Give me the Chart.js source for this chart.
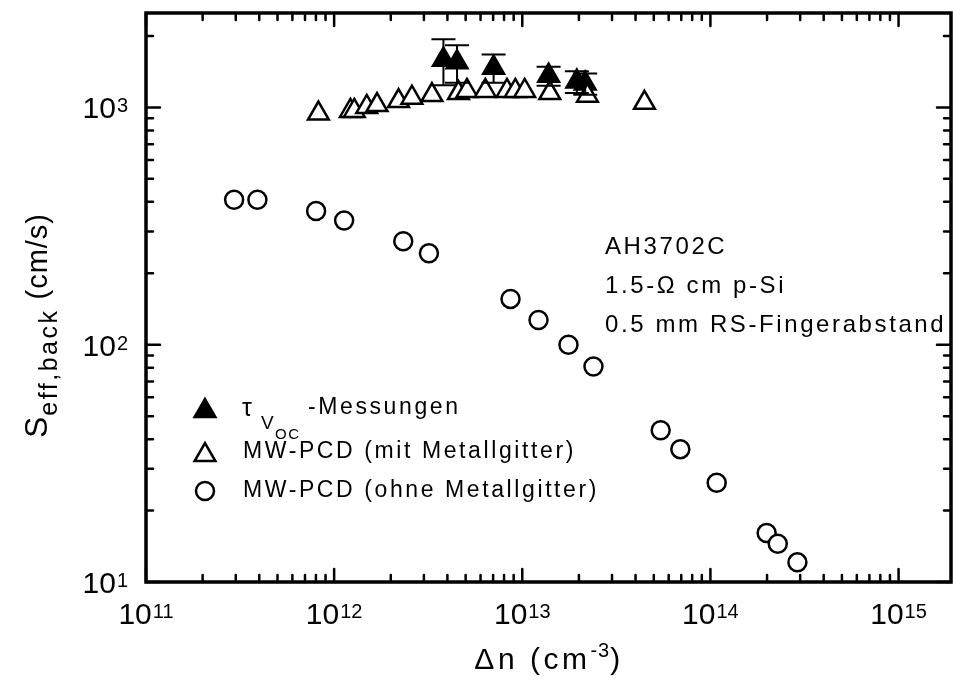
<!DOCTYPE html>
<html>
<head>
<meta charset="utf-8">
<script src="https://cdn.jsdelivr.net/npm/chart.js@4.4.0/dist/chart.umd.min.js"></script>
<style>
  html, body { margin: 0; padding: 0; background: #fff; overflow: hidden; }
  #wrap { width: 953px; height: 695px; }
</style>
</head>
<body>
<div id="wrap"><canvas id="myChart" width="953" height="695"></canvas></div>
<script>
// MW-PCD without metal grid (open circles)
const circleX = [2.94e11, 3.91e11, 8.02e11, 1.13e12, 2.33e12, 3.19e12, 8.66e12, 1.22e13,
    1.76e13, 2.39e13, 5.44e13, 6.92e13, 1.08e14, 1.99e14, 2.28e14, 2.90e14];
const circleY = [408, 408, 366, 334, 273, 243, 156, 127, 100, 81, 43.6, 36.3, 26.2, 16.1, 14.5, 12.1];

// MW-PCD with metal grid (open triangles)
const triX = [8.25e11, 1.22e12, 1.28e12, 1.49e12, 1.69e12, 2.2e12, 2.59e12, 3.31e12, 4.58e12,
    5.08e12, 6.36e12, 8.29e12, 9.18e12, 1.03e13, 1.40e13, 2.22e13, 4.46e13];
const triY = [942, 966, 966, 1005, 1023, 1064, 1099, 1128, 1150, 1173, 1173, 1173, 1173, 1173, 1150, 1120, 1046];

// tau_Voc measurements (filled triangles with error bars)
const vocX = [3.81e12, 4.50e12, 7.04e12, 1.38e13, 1.95e13, 2.16e13];
const vocY = [1590, 1550, 1470, 1360, 1285, 1260];
const vocErr = [350, 280, 200, 125, 135, 130];

const xExponents = [11, 12, 13, 14, 15];
const yExponents = [1, 2, 3];

const legendLabels = ["-Messungen", "MW-PCD (mit Metallgitter)", "MW-PCD (ohne Metallgitter)"];
const noteLines = ["AH3702C", "1.5-\u03A9 cm p-Si", "0.5 mm RS-Fingerabstand"];

const FONT = "'Liberation Sans', Arial, sans-serif";

function pts(xs, ys) {
    return xs.map((x, i) => ({ x: x, y: ys[i] }));
}

function setFont(ctx, size, spacing) {
    ctx.font = size + "px " + FONT;
    ctx.letterSpacing = (spacing || 0) + "px";
}

// "10" with superscript exponent
function powWidth(ctx, exp) {
    setFont(ctx, 30, 0);
    const w1 = ctx.measureText("10").width;
    setFont(ctx, 20, 0);
    const w2 = ctx.measureText(String(exp)).width;
    return w1 + 1 + w2;
}

function drawPow(ctx, exp, x, y) {
    ctx.textAlign = "left";
    ctx.textBaseline = "alphabetic";
    setFont(ctx, 30, 0);
    ctx.fillText("10", x, y);
    const w1 = ctx.measureText("10").width;
    setFont(ctx, 20, 0);
    ctx.fillText(String(exp), x + w1 + 1, y - 6);
}

const errorBars = {
    id: "errorBars",
    afterDatasetsDraw(chart) {
        const ctx = chart.ctx;
        const xs = chart.scales.x, ys = chart.scales.y;
        ctx.save();
        ctx.strokeStyle = "#000";
        ctx.lineWidth = 2;
        vocX.forEach((v, i) => {
            const px = xs.getPixelForValue(v);
            const top = ys.getPixelForValue(vocY[i] + vocErr[i]);
            const bot = ys.getPixelForValue(vocY[i] - vocErr[i]);
            ctx.beginPath();
            ctx.moveTo(px, top); ctx.lineTo(px, bot);
            ctx.moveTo(px - 12, top); ctx.lineTo(px + 12, top);
            ctx.moveTo(px - 12, bot); ctx.lineTo(px + 12, bot);
            ctx.stroke();
        });
        ctx.restore();
    }
};

const frame = {
    id: "frame",
    afterDraw(chart) {
        const ctx = chart.ctx;
        const a = chart.chartArea;
        const xs = chart.scales.x, ys = chart.scales.y;
        ctx.save();
        ctx.strokeStyle = "#000";
        ctx.fillStyle = "#000";
        ctx.lineCap = "round";

        // x ticks (inward, bottom and top)
        ctx.lineWidth = 2.5;
        xExponents.forEach(e => {
            for (let m = 1; m <= 9; m++) {
                const v = m * Math.pow(10, e);
                if (v > xs.max) break;
                const px = xs.getPixelForValue(v);
                const len = m === 1 ? 13 : 7;
                ctx.beginPath();
                ctx.moveTo(px, a.bottom); ctx.lineTo(px, a.bottom - len);
                ctx.moveTo(px, a.top); ctx.lineTo(px, a.top + len);
                ctx.stroke();
            }
        });
        // y ticks (inward, left and right)
        yExponents.forEach(e => {
            for (let m = 1; m <= 9; m++) {
                const v = m * Math.pow(10, e);
                if (v > ys.max) break;
                const py = ys.getPixelForValue(v);
                const len = m === 1 ? 14 : 7;
                ctx.beginPath();
                ctx.moveTo(a.left, py); ctx.lineTo(a.left + len, py);
                ctx.moveTo(a.right, py); ctx.lineTo(a.right - len, py);
                ctx.stroke();
            }
        });

        // frame
        ctx.lineCap = "butt";
        ctx.lineWidth = 3.5;
        ctx.strokeRect(a.left, a.top, a.right - a.left, a.bottom - a.top);

        // x tick labels
        xExponents.forEach(e => {
            const px = xs.getPixelForValue(Math.pow(10, e));
            const w = powWidth(ctx, e);
            drawPow(ctx, e, px - w / 2, a.bottom + 42);
        });
        // y tick labels
        yExponents.forEach(e => {
            const py = ys.getPixelForValue(Math.pow(10, e));
            const w = powWidth(ctx, e);
            drawPow(ctx, e, 128 - w, py + 11);
        });

        // x title: Δn (cm-3)
        ctx.textBaseline = "alphabetic";
        ctx.textAlign = "left";
        setFont(ctx, 30, 3.5);
        const t1 = "\u0394n (cm";
        const w1 = ctx.measureText(t1).width;
        setFont(ctx, 20, 1);
        const w2 = ctx.measureText("-3").width;
        setFont(ctx, 30, 3.5);
        const w3 = ctx.measureText(")").width;
        let x0 = 549 - (w1 + w2 + w3) / 2;
        ctx.fillText(t1, x0, 669);
        setFont(ctx, 20, 1);
        ctx.fillText("-3", x0 + w1, 657);
        setFont(ctx, 30, 3.5);
        ctx.fillText(")", x0 + w1 + w2, 669);

        // y title: S_eff,back (cm/s), reading bottom to top
        ctx.save();
        ctx.translate(47, 438);
        ctx.rotate(-Math.PI / 2);
        setFont(ctx, 32, 1);
        ctx.fillText("S", 0, 0);
        let sx = ctx.measureText("S").width;
        setFont(ctx, 25, 2.5);
        ctx.fillText("eff,back", sx, 10);
        sx += ctx.measureText("eff,back").width;
        setFont(ctx, 29, 1);
        ctx.fillText(" (cm/s)", sx, 0);
        ctx.restore();

        // legend
        const H = Chart.helpers;
        const rows = [408, 452, 491];
        const styles = [
            { pointStyle: "triangle", radius: 12, fill: "#000" },
            { pointStyle: "triangle", radius: 12, fill: "#fff" },
            { pointStyle: "circle", radius: 9, fill: "#fff" }
        ];
        styles.forEach((s, i) => {
            ctx.fillStyle = s.fill;
            ctx.strokeStyle = "#000";
            ctx.lineWidth = 2.5;
            const cy = s.pointStyle === "triangle" ? rows[i] + 3 : rows[i];
            H.drawPoint(ctx, { pointStyle: s.pointStyle, radius: s.radius, rotation: 0, borderWidth: 2.5 }, 205, cy);
        });
        ctx.fillStyle = "#000";
        ctx.textBaseline = "middle";
        // tau_Voc
        setFont(ctx, 25, 0);
        ctx.fillText("\u03C4", 242, rows[0] + 1);
        setFont(ctx, 19, 0);
        ctx.fillText("V", 261, rows[0] + 16);
        setFont(ctx, 15, 1.5);
        ctx.fillText("OC", 275, rows[0] + 27);
        setFont(ctx, 23, 2.6);
        ctx.fillText(legendLabels[0], 308, rows[0]);
        ctx.fillText(legendLabels[1], 243, rows[1]);
        ctx.fillText(legendLabels[2], 243, rows[2]);

        // sample note
        setFont(ctx, 24, 2.6);
        noteLines.forEach((t, i) => {
            ctx.fillText(t, 605, 247 + i * 39);
        });

        ctx.restore();
    }
};

const ctx = document.getElementById("myChart");

new Chart(ctx, {
    type: "scatter",
    data: {
        datasets: [
            {
                label: "MW-PCD (ohne Metallgitter)",
                data: pts(circleX, circleY),
                pointStyle: "circle",
                pointRadius: 9,
                pointBackgroundColor: "#fff",
                pointBorderColor: "#000",
                pointBorderWidth: 2.5
            },
            {
                label: "MW-PCD (mit Metallgitter)",
                data: pts(triX, triY),
                pointStyle: "triangle",
                pointRadius: 12,
                pointBackgroundColor: "#fff",
                pointBorderColor: "#000",
                pointBorderWidth: 2.5
            },
            {
                label: "tau_Voc-Messungen",
                data: pts(vocX, vocY),
                pointStyle: "triangle",
                pointRadius: 12,
                pointBackgroundColor: "#000",
                pointBorderColor: "#000",
                pointBorderWidth: 2.5
            }
        ]
    },
    options: {
        responsive: false,
        animation: false,
        events: [],
        layout: { autoPadding: false, padding: { left: 146, top: 13, right: 2, bottom: 113 } },
        plugins: {
            legend: { display: false },
            tooltip: { enabled: false }
        },
        scales: {
            x: { type: "logarithmic", min: 1e11, max: 1.9e15, display: false },
            y: { type: "logarithmic", min: 10, max: 2500, display: false }
        }
    },
    plugins: [errorBars, frame]
});
</script>
</body>
</html>
